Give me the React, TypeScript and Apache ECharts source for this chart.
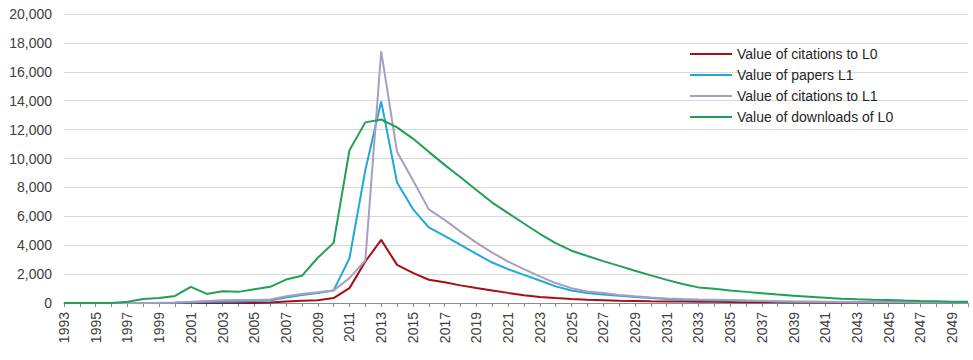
import React, { useEffect, useRef } from "react";
import * as echarts from "echarts";

const years: string[] = [];
for (let y = 1993; y <= 2050; y++) years.push(String(y));

const citationsL0 = [
  0, 0, 0, 0, 0, 0, 0, 0, 0, 0, 0, 0, 0, 30, 110, 160, 190, 340, 1030, 2870,
  4370, 2640, 2080, 1610, 1430, 1220, 1040, 870, 700, 540, 420, 340, 270, 220,
  190, 160, 140, 120, 110, 100, 90, 80, 70, 60, 50, 45, 40, 35, 30, 25, 20, 18,
  15, 12, 10, 10, 8, 5,
];

const papersL1 = [
  0, 0, 0, 0, 0, 0, 0, 10, 40, 70, 90, 100, 130, 180, 380, 550, 690, 870, 3100,
  9200, 13950, 8340, 6500, 5240, 4640, 4020, 3400, 2800, 2340, 1950, 1560, 1150,
  870, 690, 580, 500, 410, 340, 280, 230, 200, 190, 170, 150, 130, 110, 90, 80,
  70, 60, 55, 50, 45, 40, 35, 30, 25, 20,
];

const citationsL1 = [
  0, 0, 0, 0, 0, 0, 10, 30, 80, 140, 190, 200, 210, 240, 470, 620, 740, 870,
  1720, 2940, 17420, 10460, 8500, 6480, 5750, 4940, 4180, 3490, 2870, 2340, 1840,
  1380, 1030, 800, 690, 560, 460, 380, 320, 270, 240, 220, 200, 170, 150, 120,
  100, 90, 80, 70, 60, 55, 50, 45, 40, 35, 30, 25,
];

const downloadsL0 = [
  0, 0, 0, 0, 80, 280, 350, 490, 1120, 630, 820, 770, 950, 1120, 1620, 1880,
  3130, 4160, 10570, 12500, 12700, 12150, 11380, 10460, 9560, 8700, 7820, 6950,
  6220, 5500, 4790, 4150, 3620, 3250, 2900, 2570, 2230, 1910, 1600, 1320, 1080,
  980, 870, 770, 680, 580, 510, 440, 370, 300, 260, 230, 210, 170, 140, 120, 90,
  80,
];

const seriesNames = [
  "Value of citations to L0",
  "Value of papers L1",
  "Value of citations to L1",
  "Value of downloads of L0",
];
const seriesColors = ["#A50F15", "#22A7DA", "#A99EBF", "#21A055"];

export default function App() {
  const ref = useRef<HTMLDivElement>(null);
  useEffect(() => {
    if (!ref.current) return;
    const chart = echarts.init(ref.current, undefined, { renderer: "svg" });
    const data = [citationsL0, papersL1, citationsL1, downloadsL0];
    chart.setOption({
      animation: false,
      backgroundColor: "#ffffff",
      grid: { left: 64, right: 5, top: 14, bottom: 57, containLabel: false },
      legend: {
        orient: "vertical",
        left: 685,
        top: 42,
        icon: "rect",
        itemWidth: 42,
        itemHeight: 2,
        itemGap: 7,
        data: seriesNames,
        textStyle: {
          fontFamily: "Liberation Sans, Arial, sans-serif",
          fontSize: 14,
          color: "#262626",
          lineHeight: 14,
        },
      },
      xAxis: {
        type: "category",
        data: years,
        boundaryGap: false,
        axisLine: { lineStyle: { color: "#8C8C8C", width: 1 } },
        axisTick: {
          show: true,
          interval: 0,
          length: 4,
          lineStyle: { color: "#8C8C8C" },
        },
        axisLabel: {
          interval: 1,
          rotate: 90,
          margin: 9,
          fontFamily: "Liberation Sans, Arial, sans-serif",
          fontSize: 14,
          color: "#404040",
        },
        splitLine: { show: false },
      },
      yAxis: {
        type: "value",
        min: 0,
        max: 20000,
        interval: 2000,
        axisLine: { show: false },
        axisTick: { show: false },
        axisLabel: {
          margin: 12,
          fontFamily: "Liberation Sans, Arial, sans-serif",
          fontSize: 14,
          color: "#404040",
          formatter: (v: number) => v.toLocaleString("en-US"),
        },
        splitLine: { lineStyle: { color: "#D9D9D9", width: 1 } },
      },
      series: seriesNames.map((name, i) => ({
        name,
        type: "line",
        data: data[i],
        showSymbol: false,
        symbol: "none",
        lineStyle: { color: seriesColors[i], width: 2 },
        itemStyle: { color: seriesColors[i] },
      })),
    });
    return () => chart.dispose();
  }, []);
  return (
    <div
      ref={ref}
      style={{ position: "fixed", left: 0, top: 0, width: 973, height: 360 }}
    />
  );
}
